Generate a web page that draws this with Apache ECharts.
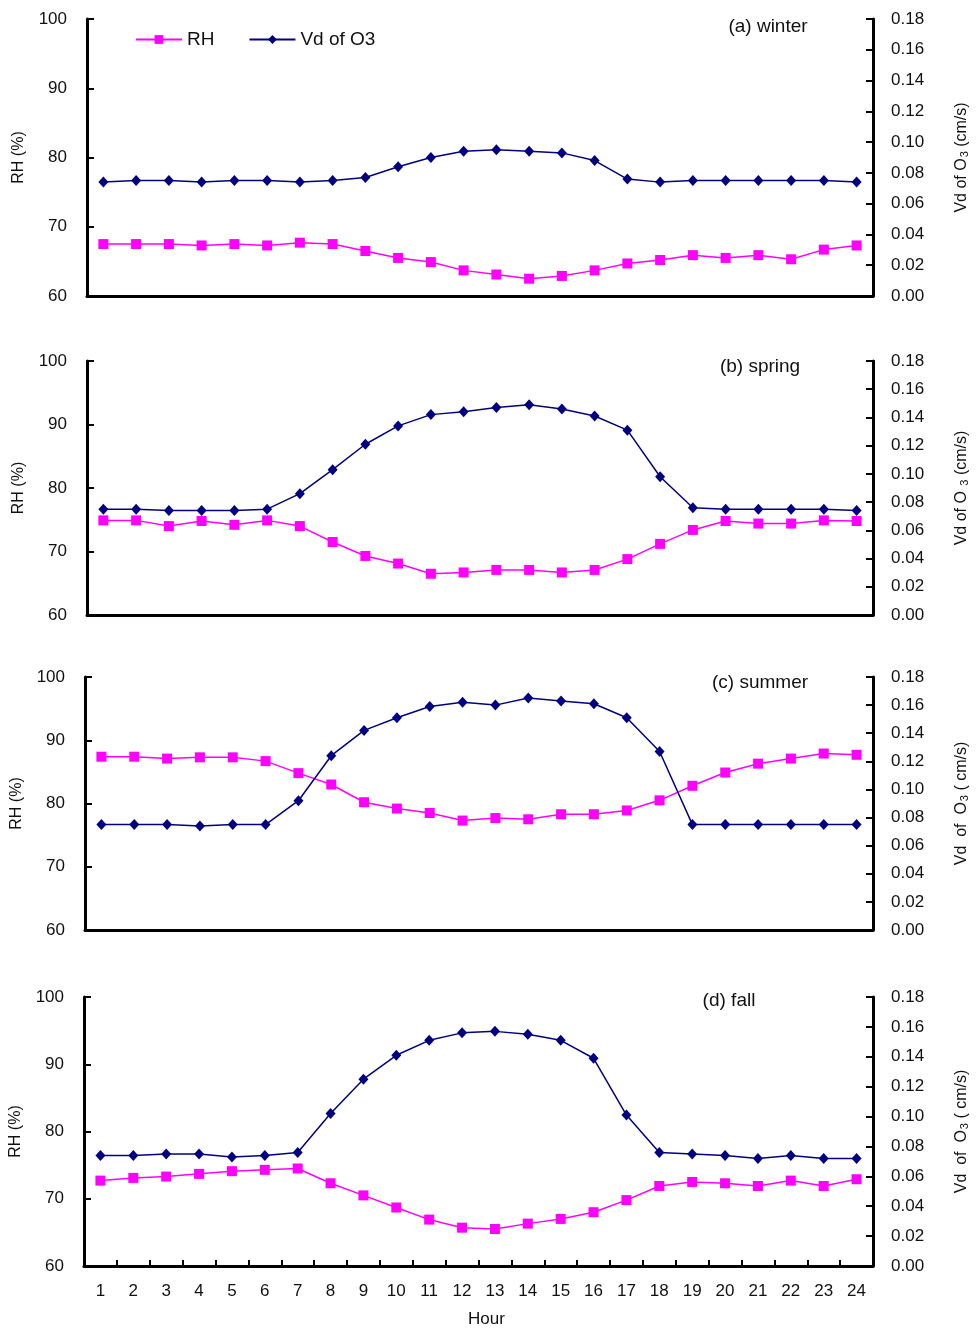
<!DOCTYPE html>
<html>
<head>
<meta charset="utf-8">
<script src="https://cdn.jsdelivr.net/npm/echarts@6/dist/echarts.min.js"></script>
<style>
  html, body { margin: 0; padding: 0; background: #fff; }
  #chart { width: 978px; height: 1329px; }
</style>
</head>
<body>
<div id="chart"></div>
<script>
const hours = ['1', '2', '3', '4', '5', '6', '7', '8', '9', '10', '11', '12',
  '13', '14', '15', '16', '17', '18', '19', '20', '21', '22', '23', '24']

const seasons = ['(a) winter', '(b) spring', '(c) summer', '(d) fall']

// RH (%) on the left axis
const rhWinter = [67.5, 67.5, 67.5, 67.3, 67.5, 67.3, 67.7, 67.5, 66.5, 65.5, 64.9, 63.7,
  63.1, 62.5, 62.9, 63.7, 64.7, 65.2, 65.9, 65.5, 65.9, 65.3, 66.7, 67.3]
const rhSpring = [74.9, 74.9, 74.0, 74.8, 74.2, 74.9, 74.0, 71.5, 69.3, 68.1, 66.5, 66.7,
  67.1, 67.1, 66.7, 67.1, 68.8, 71.2, 73.4, 74.8, 74.4, 74.4, 74.9, 74.8]
const rhSummer = [87.4, 87.4, 87.1, 87.3, 87.3, 86.7, 84.8, 83.0, 80.2, 79.2, 78.5, 77.3,
  77.7, 77.5, 78.3, 78.3, 78.9, 80.5, 82.8, 84.9, 86.3, 87.1, 87.9, 87.7]
const rhFall = [72.7, 73.1, 73.3, 73.7, 74.1, 74.3, 74.5, 72.3, 70.5, 68.7, 66.9, 65.7,
  65.5, 66.3, 67.0, 68.0, 69.8, 71.9, 72.5, 72.3, 71.9, 72.7, 71.9, 72.9]

// Vd of O3 (cm/s) on the right axis
const vdWinter = [0.074, 0.075, 0.075, 0.074, 0.075, 0.075, 0.074, 0.075, 0.077, 0.084, 0.090, 0.094,
  0.095, 0.094, 0.093, 0.088, 0.076, 0.074, 0.075, 0.075, 0.075, 0.075, 0.075, 0.074]
const vdSpring = [0.075, 0.075, 0.074, 0.074, 0.074, 0.075, 0.086, 0.103, 0.121, 0.134, 0.142, 0.144,
  0.147, 0.149, 0.146, 0.141, 0.131, 0.098, 0.076, 0.075, 0.075, 0.075, 0.075, 0.074]
const vdSummer = [0.075, 0.075, 0.075, 0.074, 0.075, 0.075, 0.092, 0.124, 0.142, 0.151, 0.159, 0.162,
  0.160, 0.165, 0.163, 0.161, 0.151, 0.127, 0.075, 0.075, 0.075, 0.075, 0.075, 0.075]
const vdFall = [0.074, 0.074, 0.075, 0.075, 0.073, 0.074, 0.076, 0.102, 0.125, 0.141, 0.151, 0.156,
  0.157, 0.155, 0.151, 0.139, 0.101, 0.076, 0.075, 0.074, 0.072, 0.074, 0.072, 0.072]

const rhData = [rhWinter, rhSpring, rhSummer, rhFall]
const vdData = [vdWinter, vdSpring, vdSummer, vdFall]

// right axis titles, spaced as in each panel of the original
const vdNames = [
  '{t|Vd of O}{s|3}{t| (cm/s)}',
  '{t|Vd of O }{s|3}{t| (cm/s)}',
  '{t|Vd  of  O}{s|3}{t| ( cm/s)}',
  '{t|Vd  of  O}{s|3}{t| ( cm/s)}'
]

const font = "'Liberation Sans', Arial, sans-serif"
const ink = '#111'

// panel boxes: left, right, top, height (px); label = centre of season text
const boxes = [
  { left: 87, right: 102, top: 19, height: 277, label: { x: 768, y: 27 } },
  { left: 87, right: 98, top: 361, height: 254, label: { x: 760, y: 367 } },
  { left: 85, right: 93, top: 677, height: 253, label: { x: 760, y: 683 } },
  { left: 84, right: 98, top: 997, height: 270, label: { x: 729, y: 1001 } }
]

const grid = [], xAxis = [], yAxis = [], series = [], graphic = []

boxes.forEach((b, i) => {
  const last = i === boxes.length - 1
  grid.push({ left: b.left, right: b.right, top: b.top, height: b.height })
  graphic.push({
    type: 'text', x: b.label.x, y: b.label.y,
    style: {
      text: seasons[i], fill: ink, font: '19px ' + font,
      textAlign: 'center', textVerticalAlign: 'middle'
    }
  })
  xAxis.push({
    type: 'category', gridIndex: i, data: hours, boundaryGap: true,
    axisLine: { lineStyle: { color: '#000', width: 3 } },
    axisTick: { show: last, inside: true, length: 6, lineStyle: { color: '#000', width: 2 } },
    axisLabel: { show: last, margin: 17, fontFamily: font, fontSize: 17, color: ink },
    name: last ? 'Hour' : '', nameLocation: 'middle', nameGap: 45,
    nameTextStyle: { fontFamily: font, fontSize: 17, color: ink, padding: [0, 0, 0, 16] },
    splitLine: { show: false }
  })
  yAxis.push({
    type: 'value', gridIndex: i, position: 'left', min: 60, max: 100, interval: 10,
    axisLine: { show: true, lineStyle: { color: '#000', width: 3 } },
    axisTick: { show: true, inside: true, length: 7, lineStyle: { color: '#000', width: 2 } },
    axisLabel: { margin: 20, fontFamily: font, fontSize: 17, color: ink },
    splitLine: { show: false },
    name: 'RH (%)', nameLocation: 'middle', nameGap: 60, nameRotate: 90,
    nameTextStyle: { fontFamily: font, fontSize: 16, color: ink }
  })
  yAxis.push({
    type: 'value', gridIndex: i, position: 'right', min: 0, max: 0.18, interval: 0.02,
    axisLine: { show: true, lineStyle: { color: '#000', width: 3 } },
    axisTick: { show: true, inside: true, length: 7, lineStyle: { color: '#000', width: 2 } },
    axisLabel: { margin: 18, fontFamily: font, fontSize: 17, color: ink, formatter: v => v.toFixed(2) },
    splitLine: { show: false },
    name: vdNames[i], nameLocation: 'middle', nameGap: 80, nameRotate: 90,
    nameTextStyle: {
      fontFamily: font, fontSize: 16, color: ink,
      rich: {
        t: { fontFamily: font, fontSize: 16, color: ink },
        s: { fontFamily: font, fontSize: 11, color: ink, verticalAlign: 'bottom', padding: [6, 0, 0, 1] }
      }
    }
  })
  series.push({
    name: 'RH', type: 'line', xAxisIndex: i, yAxisIndex: i * 2, data: rhData[i],
    symbol: 'rect', symbolSize: 10, color: '#ff00ff',
    lineStyle: { width: 1.5, color: '#ff00ff' }, itemStyle: { color: '#ff00ff' }
  })
  series.push({
    name: 'Vd of O3', type: 'line', xAxisIndex: i, yAxisIndex: i * 2 + 1, data: vdData[i],
    symbol: 'diamond', symbolSize: [10, 11], color: '#000080',
    lineStyle: { width: 1.5, color: '#000080' }, itemStyle: { color: '#000080' }
  })
})

const chart = echarts.init(document.getElementById('chart'))
chart.setOption({
  animation: false,
  backgroundColor: '#fff',
  legend: {
    left: 130, top: 25, itemWidth: 46, itemHeight: 11, itemGap: 34,
    data: ['RH', 'Vd of O3'],
    textStyle: { fontFamily: font, fontSize: 19, color: ink }
  },
  grid: grid,
  xAxis: xAxis,
  yAxis: yAxis,
  series: series,
  graphic: graphic
})
window.addEventListener('resize', () => chart.resize())
</script>
</body>
</html>
